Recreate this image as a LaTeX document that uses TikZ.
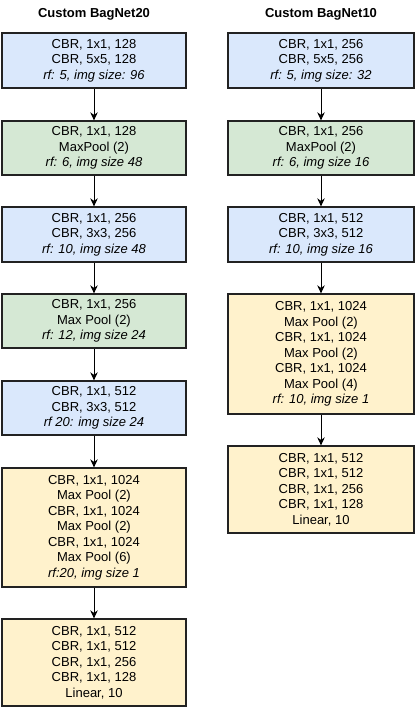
\documentclass[tikz,border=0pt]{standalone}
\usepackage{fontspec}
\setmainfont{Liberation Sans}
\usetikzlibrary{arrows.meta}
\definecolor{bagBlue}{HTML}{DAE8FC}
\definecolor{bagGreen}{HTML}{D5E8D4}
\definecolor{bagYellow}{HTML}{FFF2CC}
\definecolor{bagLine}{HTML}{222222}
\tikzset{
  bag block/.style={draw=bagLine, line width=1.3pt, inner sep=0pt, align=center,
    font=\fontsize{13}{15.5}\selectfont},
  bag conv/.style={bag block, fill=bagBlue},
  bag pool/.style={bag block, fill=bagGreen},
  bag head/.style={bag block, fill=bagYellow},
  bag arrow/.style={draw=black, line width=1pt, -{Stealth[length=8pt, width=7.5pt, inset=2.5pt]}},
  bag title/.style={font=\fontsize{13}{15.5}\selectfont\bfseries},
}

\begin{document}
\begin{tikzpicture}[x=1pt, y=-1pt]
  \useasboundingbox (0,0) rectangle (415,710);

  % left column: BagNet20
  \node[bag title] (tl) at (94,14) {Custom BagNet20};
  \node[bag conv, minimum width=184pt, minimum height=55pt] (l1) at (94,60.5)
    {CBR, 1x1, 128\\CBR, 5x5, 128\\\textit{rf: 5, img size: 96}};
  \node[bag pool, minimum width=184pt, minimum height=54pt] (l2) at (94,148)
    {CBR, 1x1, 128\\MaxPool (2)\\\textit{rf: 6, img size 48}};
  \node[bag conv, minimum width=184pt, minimum height=55pt] (l3) at (94,234.5)
    {CBR, 1x1, 256\\CBR, 3x3, 256\\\textit{rf: 10, img size 48}};
  \node[bag pool, minimum width=184pt, minimum height=54pt] (l4) at (94,321)
    {CBR, 1x1, 256\\Max Pool (2)\\\textit{rf: 12, img size 24}};
  \node[bag conv, minimum width=184pt, minimum height=54pt] (l5) at (94,408)
    {CBR, 1x1, 512\\CBR, 3x3, 512\\\textit{rf 20: img size 24}};
  \node[bag head, minimum width=184pt, minimum height=119pt] (l6) at (94,527.5)
    {CBR, 1x1, 1024\\Max Pool (2)\\CBR, 1x1, 1024\\Max Pool (2)\\CBR, 1x1, 1024\\Max Pool (6)\\\textit{rf:20, img size 1}};
  \node[bag head, minimum width=184pt, minimum height=87pt] (l7) at (94,662.5)
    {CBR, 1x1, 512\\CBR, 1x1, 512\\CBR, 1x1, 256\\CBR, 1x1, 128\\Linear, 10};

  % right column: BagNet10
  \node[bag title] (tr) at (321,14) {Custom BagNet10};
  \node[bag conv, minimum width=186pt, minimum height=55pt] (r1) at (321,60.5)
    {CBR, 1x1, 256\\CBR, 5x5, 256\\\textit{rf: 5, img size: 32}};
  \node[bag pool, minimum width=186pt, minimum height=54pt] (r2) at (321,148)
    {CBR, 1x1, 256\\MaxPool (2)\\\textit{rf: 6, img size 16}};
  \node[bag conv, minimum width=186pt, minimum height=55pt] (r3) at (321,234.5)
    {CBR, 1x1, 512\\CBR, 3x3, 512\\\textit{rf: 10, img size 16}};
  \node[bag head, minimum width=186pt, minimum height=120pt] (r4) at (321,354)
    {CBR, 1x1, 1024\\Max Pool (2)\\CBR, 1x1, 1024\\Max Pool (2)\\CBR, 1x1, 1024\\Max Pool (4)\\\textit{rf: 10, img size 1}};
  \node[bag head, minimum width=186pt, minimum height=87pt] (r5) at (321,489.5)
    {CBR, 1x1, 512\\CBR, 1x1, 512\\CBR, 1x1, 256\\CBR, 1x1, 128\\Linear, 10};

  % arrows
  \foreach \a/\b in {l1/l2, l2/l3, l3/l4, l4/l5, l5/l6, l6/l7, r1/r2, r2/r3, r3/r4, r4/r5} {
    \draw[bag arrow] (\a.south) -- (\b.north);
  }
\end{tikzpicture}
\end{document}
